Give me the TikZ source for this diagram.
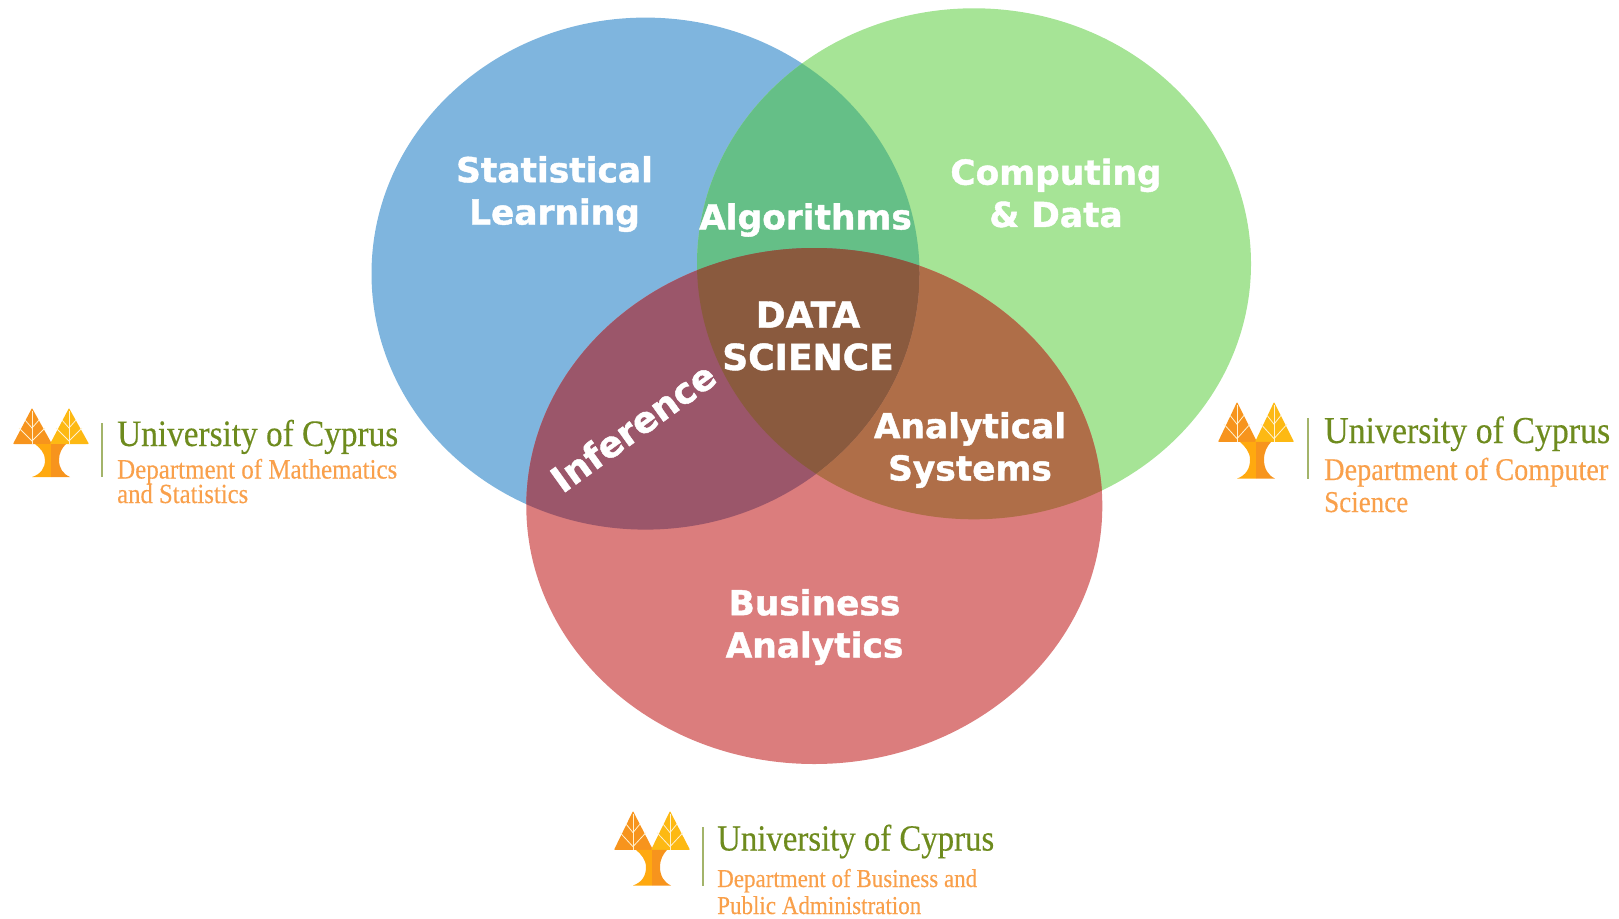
\documentclass[tikz,border=0pt]{standalone}
\usepackage{fontspec}
\usepackage{graphicx}
\setmainfont{DejaVu Sans}
\newfontfamily\vennfont[FakeBold=1.2]{DejaVu Sans Bold}
\newfontfamily\logofont[FakeBold=0.35]{Liberation Serif}
\definecolor{cblue}{HTML}{7FB5DE}
\definecolor{cgreen}{HTML}{A6E496}
\definecolor{cred}{HTML}{DB7D7D}
\definecolor{cbg}{HTML}{65BF87}
\definecolor{cbr}{HTML}{9B566A}
\definecolor{cgr}{HTML}{AF6E48}
\definecolor{cmid}{HTML}{8A5A3E}
\definecolor{uniGreen}{HTML}{6E8B1E}
\definecolor{deptOrange}{HTML}{F9A04B}
\definecolor{treeDark}{HTML}{F7941D}
\definecolor{treeLight}{HTML}{FDB913}
\definecolor{trunkLight}{HTML}{FFA90F}
\definecolor{rulecol}{HTML}{A3B46A}
\newcommand{\fitw}[2]{\scalebox{1}[1.12]{\resizebox{#1pt}{!}{#2}}}
\newcommand{\blueshape}{(645.5,273.6) ellipse [x radius=274,y radius=256]}
\newcommand{\greenshape}{(974,263.8) ellipse [x radius=277,y radius=255.5]}
\newcommand{\redshape}{(814.3,506) ellipse [x radius=288,y radius=258]}
\tikzset{
  x=1pt,y=-1pt,
  vennlabel/.style={text=white,align=center,font=\fontsize{34.4}{42.3}\selectfont\vennfont,inner sep=0pt},
  vennwide/.style={vennlabel,font=\fontsize{36}{42.3}\selectfont\vennfont},
  unitext/.style={anchor=base west,inner sep=0pt,text=uniGreen,font=\logofont},
  depttext/.style={anchor=base west,inner sep=0pt,text=deptOrange,font=\logofont},
  vein/.style={draw=white!80!treeLight,line width=0.8pt},
  pics/cypruslogo/.style={code={
    \fill[treeDark,rounded corners=0.8pt] (19,0) -- (39,36) -- (0,36) -- cycle;
    \fill[treeLight,rounded corners=0.8pt] (56,0) -- (76,36) -- (37,36) -- cycle;
    \fill[trunkLight] (22,36) -- (38,36) -- (38,69) -- (19,69) .. controls (28,66) and (32,60) .. (32,52) .. controls (32,45) and (27,40) .. (22,36) -- cycle;
    \fill[treeDark] (53,36) -- (38,36) -- (38,69) -- (57,69) .. controls (50,66) and (46,60) .. (46,52) .. controls (46,45) and (49,40) .. (53,36) -- cycle;
    \draw[vein] (19,3) -- (19,36);
    \draw[vein] (12,12) -- (19,20) -- (26,12);
    \draw[vein] (6,20) -- (19,33) -- (32,20);
    \draw[vein] (56,3) -- (56,36);
    \draw[vein] (49,12) -- (56,20) -- (63,12);
    \draw[vein] (43,20) -- (56,33) -- (69,20);
  }}
}
\begin{document}
\begin{tikzpicture}
\useasboundingbox (0,0) rectangle (1619,918);
\fill[cblue] \blueshape;
\fill[cgreen] \greenshape;
\fill[cred] \redshape;
\begin{scope}
  \clip \blueshape;
  \fill[cbg] \greenshape;
  \fill[cbr] \redshape;
  \clip \greenshape;
  \fill[cmid] \redshape;
\end{scope}
\begin{scope}
  \clip \greenshape;
  \clip \redshape;
  \path[even odd rule,fill=cgr] (0,0) rectangle (1619,918) \blueshape;
\end{scope}
% labels
\node[vennlabel] (stat) at (554.5,194) {Statistical\\Learning};
\node[vennlabel] (comp) at (1056,193) {Computing\\\& Data};
\node[vennlabel] (algo) at (805.5,220) {Algorithms};
\node[vennwide] (ds) at (808,336) {DATA\\SCIENCE};
\node[vennwide,rotate=35.7] (inf) at (633,427) {Inference};
\node[vennlabel] (anal) at (970,450) {Analytical\\Systems};
\node[vennlabel] (bus) at (814.5,627) {Business\\Analytics};
% logo left
\pic at (13,408) {cypruslogo};
\draw[rulecol,line width=1.2pt] (102,423) coordinate (ra) -- (102,477) coordinate (rb);
\node[unitext] (u1) at (117,446) {\fitw{281}{University of Cyprus}};
\node[depttext] (d1a) at (117,478.5) {\fitw{280}{Department of Mathematics}};
\node[depttext] (d1b) at (117,503) {\fitw{131}{and Statistics}};
% logo right
\pic[yscale=1.11] at (1218,402) {cypruslogo};
\draw[rulecol,line width=1.2pt] (1308,418) coordinate (rc) -- (1308,479) coordinate (rd);
\node[unitext] (u2) at (1324,443) {\fitw{286}{University of Cyprus}};
\node[depttext] (d2a) at (1324,480) {\fitw{284}{Department of Computer}};
\node[depttext] (d2b) at (1324,512) {\fitw{84}{Science}};
% logo bottom
\pic[yscale=1.08] at (614,811) {cypruslogo};
\draw[rulecol,line width=1.2pt] (703,827) coordinate (re) -- (703,886) coordinate (rf);
\node[unitext] (u3) at (717,850.5) {\fitw{277}{University of Cyprus}};
\node[depttext] (d3a) at (717,887) {\fitw{260}{Department of Business and}};
\node[depttext] (d3b) at (717,914) {\fitw{204}{Public Administration}};
\end{tikzpicture}
\end{document}
